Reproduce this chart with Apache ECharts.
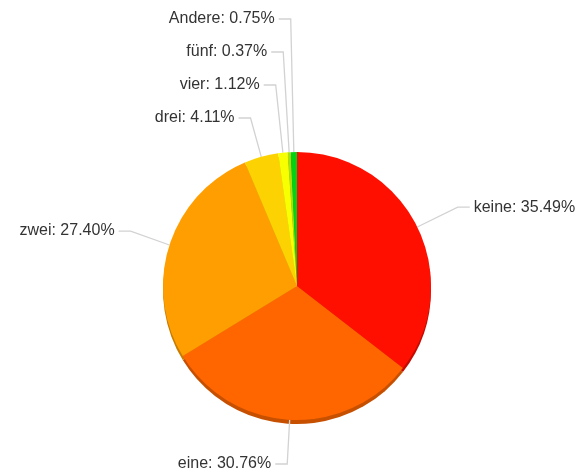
<!DOCTYPE html>
<html>
<head>
<meta charset="utf-8">
<script src="https://cdn.jsdelivr.net/npm/echarts@6/dist/echarts.min.js"></script>
<style>
  html, body { margin: 0; padding: 0; background: #fff; }
  #chart { width: 579px; height: 473px; }
</style>
</head>
<body>
<div id="chart"></div>
<script>
// Share of households by number of items (percent)
const categories = ['keine', 'eine', 'zwei', 'drei', 'vier', 'fünf', 'Andere'];
const shares = [35.49, 30.76, 27.40, 4.11, 1.12, 0.37, 0.75];
const sliceColors = ['#FF0F00', '#FF6600', '#FF9E01', '#FCD202', '#F8FF01', '#B0DE09', '#04D215'];
const depthColors = ['#C40B00', '#C75000', '#C77B01', '#C4A401', '#C1C700', '#89AD07', '#03A410'];

// pie geometry (pixels)
const CX = 297, CY = 286, R = 134, DEPTH = 4;
// labels of the thin slices near 12 o'clock are stacked above the pie
const FIRST_STACKED = 3, STACK_GAP = 33, STACK_OFFSET = 34, LEG2 = 12, TEXT_GAP = 4;

const chart = echarts.init(document.getElementById('chart'), null, { renderer: 'canvas' });

const sliceData = categories.map((name, i) => ({
  name: name,
  value: shares[i],
  itemStyle: { color: sliceColors[i] }
}));

const depthData = categories.map((name, i) => ({
  name: name,
  value: shares[i],
  itemStyle: { color: depthColors[i] }
}));

function stackTopLabels(params) {
  const i = params.dataIndex;
  if (i < FIRST_STACKED || !params.labelLinePoints) return {};
  const p0 = params.labelLinePoints[0];
  const dx = p0[0] - CX, dy = p0[1] - CY;
  const len = Math.sqrt(dx * dx + dy * dy);
  const y = CY - R - STACK_OFFSET - (i - FIRST_STACKED) * STACK_GAP;
  const t = (y - p0[1]) / (dy / len);
  const elbowX = p0[0] + (dx / len) * t;
  const endX = elbowX - LEG2;
  return {
    x: endX - TEXT_GAP,
    y: y,
    align: 'right',
    verticalAlign: 'middle',
    labelLinePoints: [p0, [elbowX, y], [endX, y]]
  };
}

chart.setOption({
  animation: false,
  series: [
    {
      // darker rim under the pie, giving it a little thickness
      type: 'pie',
      silent: true,
      z: 1,
      center: [CX, CY + DEPTH],
      radius: R,
      startAngle: 90,
      clockwise: true,
      label: { show: false },
      labelLine: { show: false },
      itemStyle: { borderWidth: 0 },
      data: depthData
    },
    {
      type: 'pie',
      z: 2,
      center: [CX, CY],
      radius: R,
      startAngle: 90,
      clockwise: true,
      avoidLabelOverlap: true,
      itemStyle: { borderWidth: 0 },
      label: {
        show: true,
        color: '#333',
        fontFamily: '"Liberation Sans", Arial, sans-serif',
        fontSize: 16,
        overflow: 'none',
        distanceToLabelLine: TEXT_GAP,
        formatter: p => p.name + ': ' + p.value.toFixed(2) + '%'
      },
      labelLine: {
        show: true,
        length: 45,
        length2: LEG2,
        lineStyle: { color: '#d2d2d2', width: 1.3 }
      },
      labelLayout: stackTopLabels,
      data: sliceData
    }
  ]
});
</script>
</body>
</html>
